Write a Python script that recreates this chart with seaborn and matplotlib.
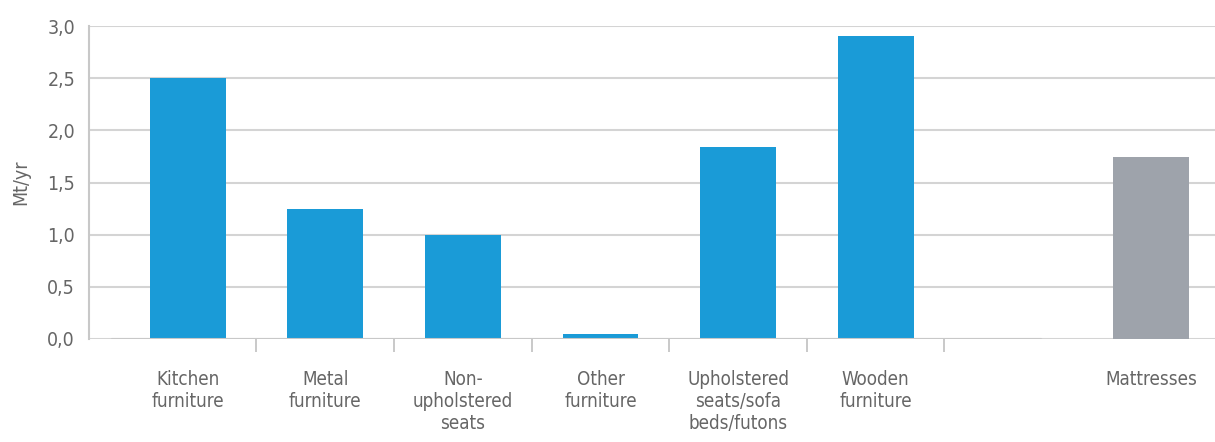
import matplotlib
matplotlib.use("Agg")
import matplotlib.pyplot as plt
import seaborn as sns
import pandas as pd
from matplotlib.ticker import FixedLocator, FuncFormatter

categories = ["Kitchen\nfurniture", "Metal\nfurniture", "Non-\nupholstered\nseats",
              "Other\nfurniture", "Upholstered\nseats/sofa\nbeds/futons",
              "Wooden\nfurniture", " ", "Mattresses"]
values = [2.50, 1.25, 1.00, 0.05, 1.84, 2.90, 0.0, 1.74]
colors = ["#1a9bd7"] * 6 + ["#ffffff", "#9ea3ab"]
y_ticks = [0.0, 0.5, 1.0, 1.5, 2.0, 2.5, 3.0]

sns.set_theme(style="white")
plt.rcParams["font.family"] = ["DejaVu Sans"]
plt.rcParams["font.stretch"] = "condensed"

df = pd.DataFrame({"cat": categories, "val": values})

fig = plt.figure(figsize=(12.15, 4.42), dpi=100)
ax = fig.add_axes([89/1215, 1 - 339/442, 1 - 89/1215, (339 - 26)/442])

sns.barplot(data=df, x="cat", y="val", hue="cat", palette=colors, order=categories,
            hue_order=categories, width=0.55, legend=False, ax=ax, saturation=1,
            linewidth=0)

x_left, x_right = -0.717, 7.466
ax.set_ylim(0, 3.0)
ax.set_xlim(x_left, x_right)
ax.yaxis.set_major_locator(FixedLocator(y_ticks))
ax.yaxis.set_major_formatter(FuncFormatter(lambda v, p: f"{v:.1f}".replace(".", ",")))
ax.grid(axis="y", color="#d4d4d4", linewidth=1.5)
ax.set_axisbelow(True)
for s in ["top", "right", "bottom"]:
    ax.spines[s].set_visible(False)
ax.spines["left"].set_color("#c8c8c8")
ax.spines["left"].set_linewidth(1.5)

ax.tick_params(axis="y", labelsize=14, colors="#666666", length=0, pad=10)
ax.tick_params(axis="x", which="major", labelsize=13.5, labelcolor="#666666", length=0, pad=22)
ax.xaxis.set_minor_locator(FixedLocator([0.5, 1.5, 2.5, 3.5, 4.5, 5.5]))
ax.tick_params(axis="x", which="minor", bottom=True, length=9, width=1.2,
               color="#c0c0c0", direction="out")
ax.axhline(0, xmin=0.02, xmax=(6.2 - x_left) / (x_right - x_left), color="#c8c8c8", linewidth=1.5)

ax.set_xlabel("")
ax.set_ylabel("Mt/yr", fontsize=14, color="#666666", labelpad=12)

fig.savefig("out.png", dpi=100)
